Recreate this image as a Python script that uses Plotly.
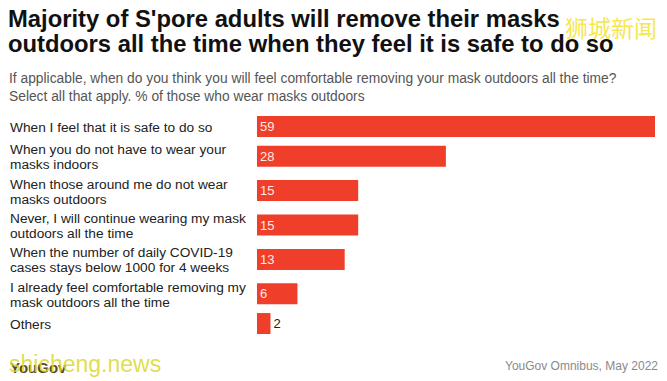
import plotly.graph_objects as go

# ---- data ----
categories = [
    "When I feel that it is safe to do so",
    "When you do not have to wear your<br>masks indoors",
    "When those around me do not wear<br>masks outdoors",
    "Never, I will continue wearing my mask<br>outdoors all the time",
    "When the number of daily COVID-19<br>cases stays below 1000 for 4 weeks",
    "I already feel comfortable removing my<br>mask outdoors all the time",
    "Others",
]
values = [59, 28, 15, 15, 13, 6, 2]

title_lines = [
    "Majority of S'pore adults will remove their masks",
    "outdoors all the time when they feel it is safe to do so",
]
subtitle_lines = [
    "If applicable, when do you think you will feel comfortable removing your mask outdoors all the time?",
    "Select all that apply. % of those who wear masks outdoors",
]
source_text = "YouGov Omnibus, May 2022"
logo_text = "YouGov"

# ---- layout constants ----
W, H = 667, 381
ML, MR, MT = 257, 12, 114
ROW_SINGLE, ROW_DOUBLE = 25, 34.5
BAR_COLOR = "#EF3E2A"
FONT = "Liberation Sans, Arial, sans-serif"

heights = [ROW_SINGLE + (ROW_DOUBLE - ROW_SINGLE) * c.count("<br>") for c in categories]
centers = []
acc = 0
for h in heights:
    centers.append(acc + h / 2)
    acc += h
total = acc
MB = H - MT - total
PW = W - ML - MR
PH = H - MT - MB


def px_x(x):
    return (x - ML) / PW


def px_y(y):
    return (MT + PH - y) / PH


positions = ["inside" if v >= 5 else "outside" for v in values]

fig = go.Figure(
    go.Bar(
        x=values,
        y=centers,
        orientation="h",
        width=21,
        marker=dict(color=BAR_COLOR, line=dict(width=0)),
        text=[str(v) for v in values],
        textposition=positions,
        textangle=0,
        insidetextanchor="start",
        insidetextfont=dict(color="#ffe9e4", size=13, family=FONT),
        outsidetextfont=dict(color="#222222", size=13, family=FONT),
        constraintext="none",
        cliponaxis=False,
        hoverinfo="skip",
    )
)

annotations = []
# category labels
for c, yc in zip(categories, centers):
    lines = c.split("<br>")
    n = len(lines)
    for i, ln in enumerate(lines):
        shift = ((n - 1) / 2 - i) * 15
        annotations.append(dict(
            text=ln, xref="paper", yref="y", x=px_x(8), y=yc, yshift=shift - 1,
            xanchor="left", yanchor="middle", showarrow=False,
            font=dict(size=13.7, color="#222222", family=FONT),
        ))

# title
for ln, yp in zip(title_lines, [18, 43]):
    annotations.append(dict(
        text="<b>" + ln + "</b>", xref="paper", yref="paper", x=px_x(6), y=px_y(yp),
        xanchor="left", yanchor="middle", showarrow=False,
        font=dict(size=23.8, color="#111111", family=FONT),
    ))
# subtitle
for ln, yp in zip(subtitle_lines, [78, 96]):
    annotations.append(dict(
        text=ln, xref="paper", yref="paper", x=px_x(7), y=px_y(yp),
        xanchor="left", yanchor="middle", showarrow=False,
        font=dict(size=13.8, color="#555555", family=FONT),
    ))
# source
annotations.append(dict(
    text=source_text, xref="paper", yref="paper", x=px_x(660), y=px_y(367),
    xanchor="right", yanchor="middle", showarrow=False,
    font=dict(size=12, color="#8a8a8a", family=FONT),
))
# logo
annotations.append(dict(
    text="<b>" + logo_text + "</b>", xref="paper", yref="paper", x=px_x(8), y=px_y(368),
    xanchor="left", yanchor="middle", showarrow=False,
    font=dict(size=15, color="#5a4a20", family=FONT),
))
# watermarks
annotations.append(dict(
    text="shicheng.news", xref="paper", yref="paper", x=px_x(7), y=px_y(365),
    xanchor="left", yanchor="middle", showarrow=False,
    font=dict(size=23, color="rgba(220,215,40,0.85)", family=FONT),
))
annotations.append(dict(
    text="狮城新闻", xref="paper", yref="paper", x=px_x(563), y=px_y(27),
    xanchor="left", yanchor="middle", showarrow=False,
    font=dict(size=23, color="rgba(245,230,70,0.95)", family="Noto Sans CJK SC"),
))

fig.update_layout(
    width=W, height=H,
    margin=dict(l=ML, r=MR, t=MT, b=MB, pad=0),
    paper_bgcolor="#ffffff", plot_bgcolor="#ffffff",
    showlegend=False,
    xaxis=dict(range=[0, max(values)], visible=False, fixedrange=True),
    yaxis=dict(range=[total, 0], visible=False, fixedrange=True),
    annotations=annotations,
    font=dict(family=FONT),
)

fig.write_html(
    "out.html",
    config={"displayModeBar": False},
    post_script="document.body.style.margin='0';document.body.style.padding='0';",
)
